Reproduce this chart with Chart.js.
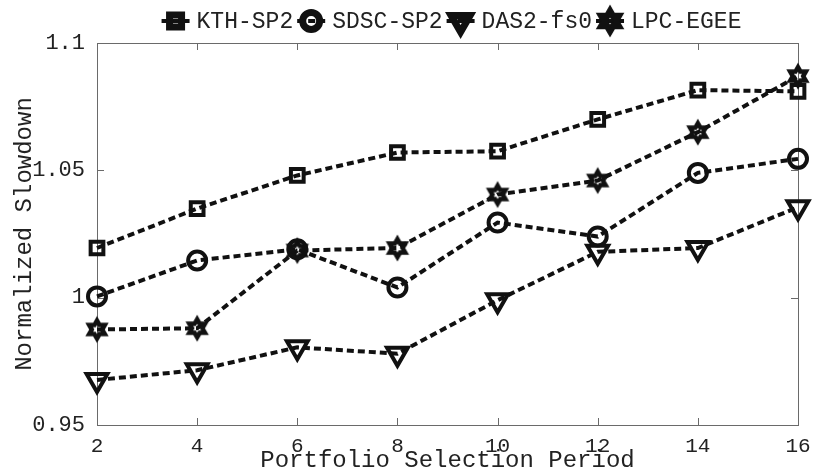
<!DOCTYPE html>
<html>
<head>
<meta charset="utf-8">
<script src="https://cdn.jsdelivr.net/npm/chart.js@4/dist/chart.umd.min.js"></script>
<style>
  html, body { margin: 0; padding: 0; background: #fff; }
  canvas { display: block; }
</style>
</head>
<body>
<canvas id="slowdownChart" width="814" height="470"></canvas>
<script>
// Normalized slowdown vs portfolio selection period

const periods = [2, 4, 6, 8, 10, 12, 14, 16];
const xTicks = [2, 4, 6, 8, 10, 12, 14, 16];
const yTicks = [0.95, 1, 1.05, 1.1];
const yTickLabels = ['0.95', '1', '1.05', '1.1'];

const seriesNames = ['KTH-SP2', 'SDSC-SP2', 'DAS2-fs0', 'LPC-EGEE'];
const kthValues = [1.0195, 1.035, 1.048, 1.057, 1.0575, 1.070, 1.0815, 1.081];
const sdscValues = [1.0005, 1.0146, 1.019, 1.004, 1.0295, 1.024, 1.049, 1.0545];
const das2Values = [0.9677, 0.9715, 0.9805, 0.978, 0.999, 1.018, 1.0195, 1.0355];
const lpcValues = [0.9875, 0.988, 1.0185, 1.0195, 1.0405, 1.046, 1.065, 1.087];

const INK = '#111';
const FONT = "'Liberation Mono', 'DejaVu Sans Mono', monospace";

// hexagram marker, drawn once on a small canvas
function makeHexagram(R, lw) {
    const size = Math.ceil(2 * R + 3 * lw);
    const c = document.createElement('canvas');
    c.width = size;
    c.height = size;
    const g = c.getContext('2d');
    const cx = size / 2, cy = size / 2;
    const r = R / Math.sqrt(3);
    g.beginPath();
    for (let i = 0; i < 12; i++) {
        const ang = -Math.PI / 2 + i * Math.PI / 6;
        const rr = i % 2 === 0 ? R : r;
        const px = cx + Math.cos(ang) * rr;
        const py = cy + Math.sin(ang) * rr;
        if (i === 0) g.moveTo(px, py); else g.lineTo(px, py);
    }
    g.closePath();
    g.lineWidth = lw;
    g.lineJoin = 'miter';
    g.strokeStyle = INK;
    g.stroke();
    return c;
}

const hexMarker = makeHexagram(9, 4.5);
const hexLegend = makeHexagram(10, 6.5);

const markerStyles = [
    { pointStyle: 'rect', rotation: 0, radius: 9 },
    { pointStyle: 'circle', rotation: 0, radius: 9 },
    { pointStyle: 'triangle', rotation: 180, radius: 12 },
    { pointStyle: hexMarker, rotation: 0, radius: 9 }
];

function makeDataset(i, values) {
    const m = markerStyles[i];
    return {
        label: seriesNames[i],
        data: periods.map((p, k) => ({ x: p, y: values[k] })),
        borderColor: INK,
        borderWidth: 4,
        borderDash: [7, 4],
        pointStyle: m.pointStyle,
        rotation: m.rotation,
        pointRadius: m.radius,
        pointHoverRadius: m.radius,
        pointBorderWidth: 4,
        pointBorderColor: INK,
        pointBackgroundColor: 'rgba(0,0,0,0)',
        tension: 0,
        fill: false,
        clip: false
    };
}

// box around the plot with inward ticks on all four sides
const framePlugin = {
    id: 'frame',
    beforeDatasetsDraw(chart) {
        const { ctx, chartArea: a, scales } = chart;
        const t = 7;
        ctx.save();
        ctx.strokeStyle = '#6a6a6a';
        ctx.lineWidth = 1;
        ctx.strokeRect(Math.round(a.left) + 0.5, Math.round(a.top) + 0.5,
            Math.round(a.right - a.left), Math.round(a.bottom - a.top));
        ctx.beginPath();
        scales.x.ticks.forEach(tk => {
            const px = Math.round(scales.x.getPixelForValue(tk.value)) + 0.5;
            ctx.moveTo(px, a.bottom);
            ctx.lineTo(px, a.bottom - t);
            ctx.moveTo(px, a.top);
            ctx.lineTo(px, a.top + t);
        });
        scales.y.ticks.forEach(tk => {
            const py = Math.round(scales.y.getPixelForValue(tk.value)) + 0.5;
            ctx.moveTo(a.left, py);
            ctx.lineTo(a.left + t, py);
            ctx.moveTo(a.right, py);
            ctx.lineTo(a.right - t, py);
        });
        ctx.stroke();
        ctx.restore();
    }
};

// legend row above the plot: short dashed stub, marker, name
const legendPlugin = {
    id: 'topLegend',
    afterDraw(chart) {
        const { ctx, chartArea: a } = chart;
        const stub = 14, gapText = 7, gapItem = 4;
        const y = 21;
        ctx.save();
        ctx.font = '23px ' + FONT;
        const widths = chart.data.datasets.map(ds => ctx.measureText(ds.label).width);
        const total = widths.reduce((s, w) => s + 2 * stub + gapText + w + gapItem, 0) - gapItem;
        let x = (a.left + a.right) / 2 + 4 - total / 2;
        chart.data.datasets.forEach((ds, i) => {
            const cx = x + stub;
            ctx.strokeStyle = INK;
            ctx.lineWidth = 4;
            ctx.setLineDash([7, 4]);
            ctx.beginPath();
            ctx.moveTo(x, y);
            ctx.lineTo(x + 2 * stub, y);
            ctx.stroke();
            ctx.setLineDash([]);
            const m = markerStyles[i];
            ctx.fillStyle = 'rgba(0,0,0,0)';
            ctx.lineWidth = 7;
            Chart.helpers.drawPoint(ctx, {
                pointStyle: i === 3 ? hexLegend : m.pointStyle,
                rotation: m.rotation,
                radius: i === 2 ? 11 : 8.5,
                borderWidth: 7
            }, cx, y);
            ctx.fillStyle = '#222';
            ctx.textBaseline = 'middle';
            ctx.textAlign = 'left';
            ctx.fillText(ds.label, x + 2 * stub + gapText, y + 1);
            x += 2 * stub + gapText + widths[i] + gapItem;
        });
        ctx.restore();
    }
};

Chart.defaults.font.family = FONT;
Chart.defaults.color = '#222';

const ctx = document.getElementById('slowdownChart').getContext('2d');
new Chart(ctx, {
    type: 'line',
    data: {
        datasets: [
            makeDataset(0, kthValues),
            makeDataset(1, sdscValues),
            makeDataset(2, das2Values),
            makeDataset(3, lpcValues)
        ]
    },
    options: {
        responsive: false,
        animation: false,
        devicePixelRatio: 1,
        layout: { padding: { top: 43, right: 12, left: 0, bottom: 0 } },
        plugins: {
            legend: { display: false },
            tooltip: { enabled: false }
        },
        scales: {
            x: {
                type: 'linear',
                min: 2,
                max: 16,
                grid: { display: false },
                border: { display: false },
                afterBuildTicks: s => { s.ticks = xTicks.map(v => ({ value: v })); },
                afterFit: s => { s.height = 45; s.paddingLeft = 0; s.paddingRight = 0; },
                ticks: {
                    font: { size: 21, lineHeight: 1 },
                    padding: 3,
                    maxRotation: 0,
                    autoSkip: false,
                    callback: v => String(v)
                },
                title: {
                    display: true,
                    text: 'Portfolio Selection Period',
                    font: { size: 24, lineHeight: 1 },
                    padding: { top: 0, bottom: -3 }
                }
            },
            y: {
                type: 'linear',
                min: 0.95,
                max: 1.1,
                grid: { display: false },
                border: { display: false },
                afterBuildTicks: s => { s.ticks = yTicks.map(v => ({ value: v })); },
                afterFit: s => { s.width = 97; s.paddingTop = 0; s.paddingBottom = 0; },
                ticks: {
                    font: { size: 22 },
                    padding: 4,
                    autoSkip: false,
                    callback: v => yTickLabels[yTicks.indexOf(v)]
                },
                title: {
                    display: true,
                    text: 'Normalized Slowdown',
                    font: { size: 24, lineHeight: 1 },
                    padding: { top: 13, bottom: 0 }
                }
            }
        }
    },
    plugins: [framePlugin, legendPlugin]
});
</script>
</body>
</html>
